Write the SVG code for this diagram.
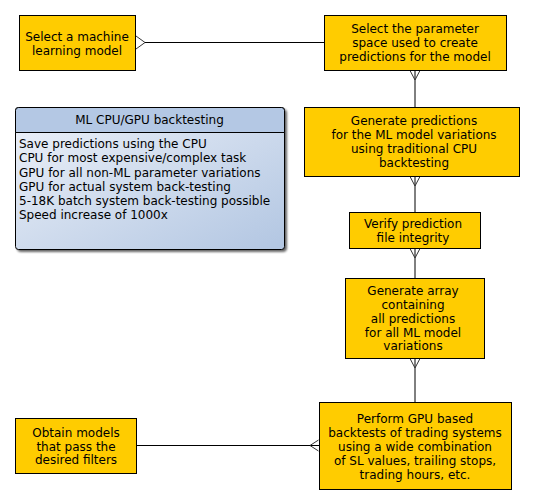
<svg xmlns="http://www.w3.org/2000/svg" width="541" height="504" viewBox="0 0 541 504">
<defs>
<style>
.box{fill:#ffcc00;stroke:#000;stroke-width:1}
.t{font-family:"DejaVu Sans",sans-serif;font-size:12px;fill:#000;text-anchor:middle}
.tl{font-family:"DejaVu Sans",sans-serif;font-size:12px;fill:#000}
.c{stroke:#000;stroke-width:1;fill:none}
.cf{stroke:#333;stroke-width:1;fill:none}
</style>
<linearGradient id="ng" x1="0" y1="0" x2="1" y2="1">
<stop offset="0" stop-color="#eef2f9"/>
<stop offset="1" stop-color="#b2c6e2"/>
</linearGradient>
<filter id="sh" x="-10%" y="-10%" width="120%" height="120%">
<feGaussianBlur in="SourceAlpha" stdDeviation="1.2"/>
<feOffset dx="2" dy="2" result="b"/>
<feComponentTransfer><feFuncA type="linear" slope="0.6"/></feComponentTransfer>
<feMerge><feMergeNode/><feMergeNode in="SourceGraphic"/></feMerge>
</filter>
</defs>
<rect width="541" height="504" fill="#fff"/>
<g id="connectors">
<path class="c" d="M145 42.5H324"/>
<path class="cf" d="M136 36L145 42.5L136 49"/>
<path class="c" d="M415 70V107"/>
<path class="cf" d="M410 70.5L415 80L420 70.5"/>
<path class="c" d="M415 176V212"/>
<path class="cf" d="M410 176.5L415 186L420 176.5"/>
<path class="c" d="M415 248V278"/>
<path class="cf" d="M410 248.5L415 258L420 248.5"/>
<path class="c" d="M415 358V402"/>
<path class="cf" d="M410 358.5L415 368L420 358.5"/>
<path class="c" d="M137 445.5H319"/>
<path class="cf" d="M318.5 440L310 445.5L318.5 451"/>
</g>
<g id="select-model">
<rect class="box" x="19.5" y="15.5" width="116" height="55"/>
<text class="t" x="77" y="40.5">Select a machine</text>
<text class="t" x="77" y="54.5">learning model</text>
</g>
<g id="param-space">
<rect class="box" x="324.5" y="15.5" width="182" height="55"/>
<text class="t" x="415" y="32.5">Select the parameter</text>
<text class="t" x="415" y="47">space used to create</text>
<text class="t" x="415" y="61">predictions for the model</text>
</g>
<g id="note">
<g filter="url(#sh)">
<path d="M18.5 107.5H281.5Q284.5 107.5 284.5 110.5V246.5Q284.5 249.5 281.5 249.5H18.5Q15.5 249.5 15.5 246.5V110.5Q15.5 107.5 18.5 107.5Z" fill="url(#ng)" stroke="#000" stroke-width="1"/>
</g>
<path d="M18.5 107.5H281.5Q284.5 107.5 284.5 110.5V132.5H15.5V110.5Q15.5 107.5 18.5 107.5Z" fill="#b4c8e4" stroke="#000" stroke-width="1"/>
<text class="t" x="149.5" y="123.5">ML CPU/GPU backtesting</text>
<text class="tl" x="19" y="148">Save predictions using the CPU</text>
<text class="tl" x="19" y="162.3">CPU for most expensive/complex task</text>
<text class="tl" x="19" y="176.5">GPU for all non-ML parameter variations</text>
<text class="tl" x="19" y="190.7">GPU for actual system back-testing</text>
<text class="tl" x="19" y="205">5-18K batch system back-testing possible</text>
<text class="tl" x="19" y="219.2">Speed increase of 1000x</text>
</g>
<g id="generate-predictions">
<rect class="box" x="304.5" y="107.5" width="215" height="69"/>
<text class="t" x="414" y="124.5">Generate predictions</text>
<text class="t" x="414" y="138.5">for the ML model variations</text>
<text class="t" x="414" y="152.5">using traditional CPU</text>
<text class="t" x="414" y="166.5">backtesting</text>
</g>
<g id="verify">
<rect class="box" x="349.5" y="212.5" width="131" height="36"/>
<text class="t" x="413" y="227.5">Verify prediction</text>
<text class="t" x="413" y="241.5">file integrity</text>
</g>
<g id="generate-array">
<rect class="box" x="345.5" y="278.5" width="139" height="80"/>
<text class="t" x="413" y="294.5">Generate array</text>
<text class="t" x="413" y="308.5">containing</text>
<text class="t" x="413" y="322.5">all predictions</text>
<text class="t" x="413" y="336.5">for all ML model</text>
<text class="t" x="413" y="350">variations</text>
</g>
<g id="gpu-backtests">
<rect class="box" x="319.5" y="402.5" width="192" height="87"/>
<text class="t" x="415" y="422.5">Perform GPU based</text>
<text class="t" x="415" y="436.5">backtests of trading systems</text>
<text class="t" x="415" y="450.5">using a wide combination</text>
<text class="t" x="415" y="464.5">of SL values, trailing stops,</text>
<text class="t" x="415" y="478.5">trading hours, etc.</text>
</g>
<g id="obtain-models">
<rect class="box" x="15.5" y="418.5" width="121" height="55"/>
<text class="t" x="76" y="436.5">Obtain models</text>
<text class="t" x="76" y="450.5">that pass the</text>
<text class="t" x="76" y="464">desired filters</text>
</g>
</svg>
